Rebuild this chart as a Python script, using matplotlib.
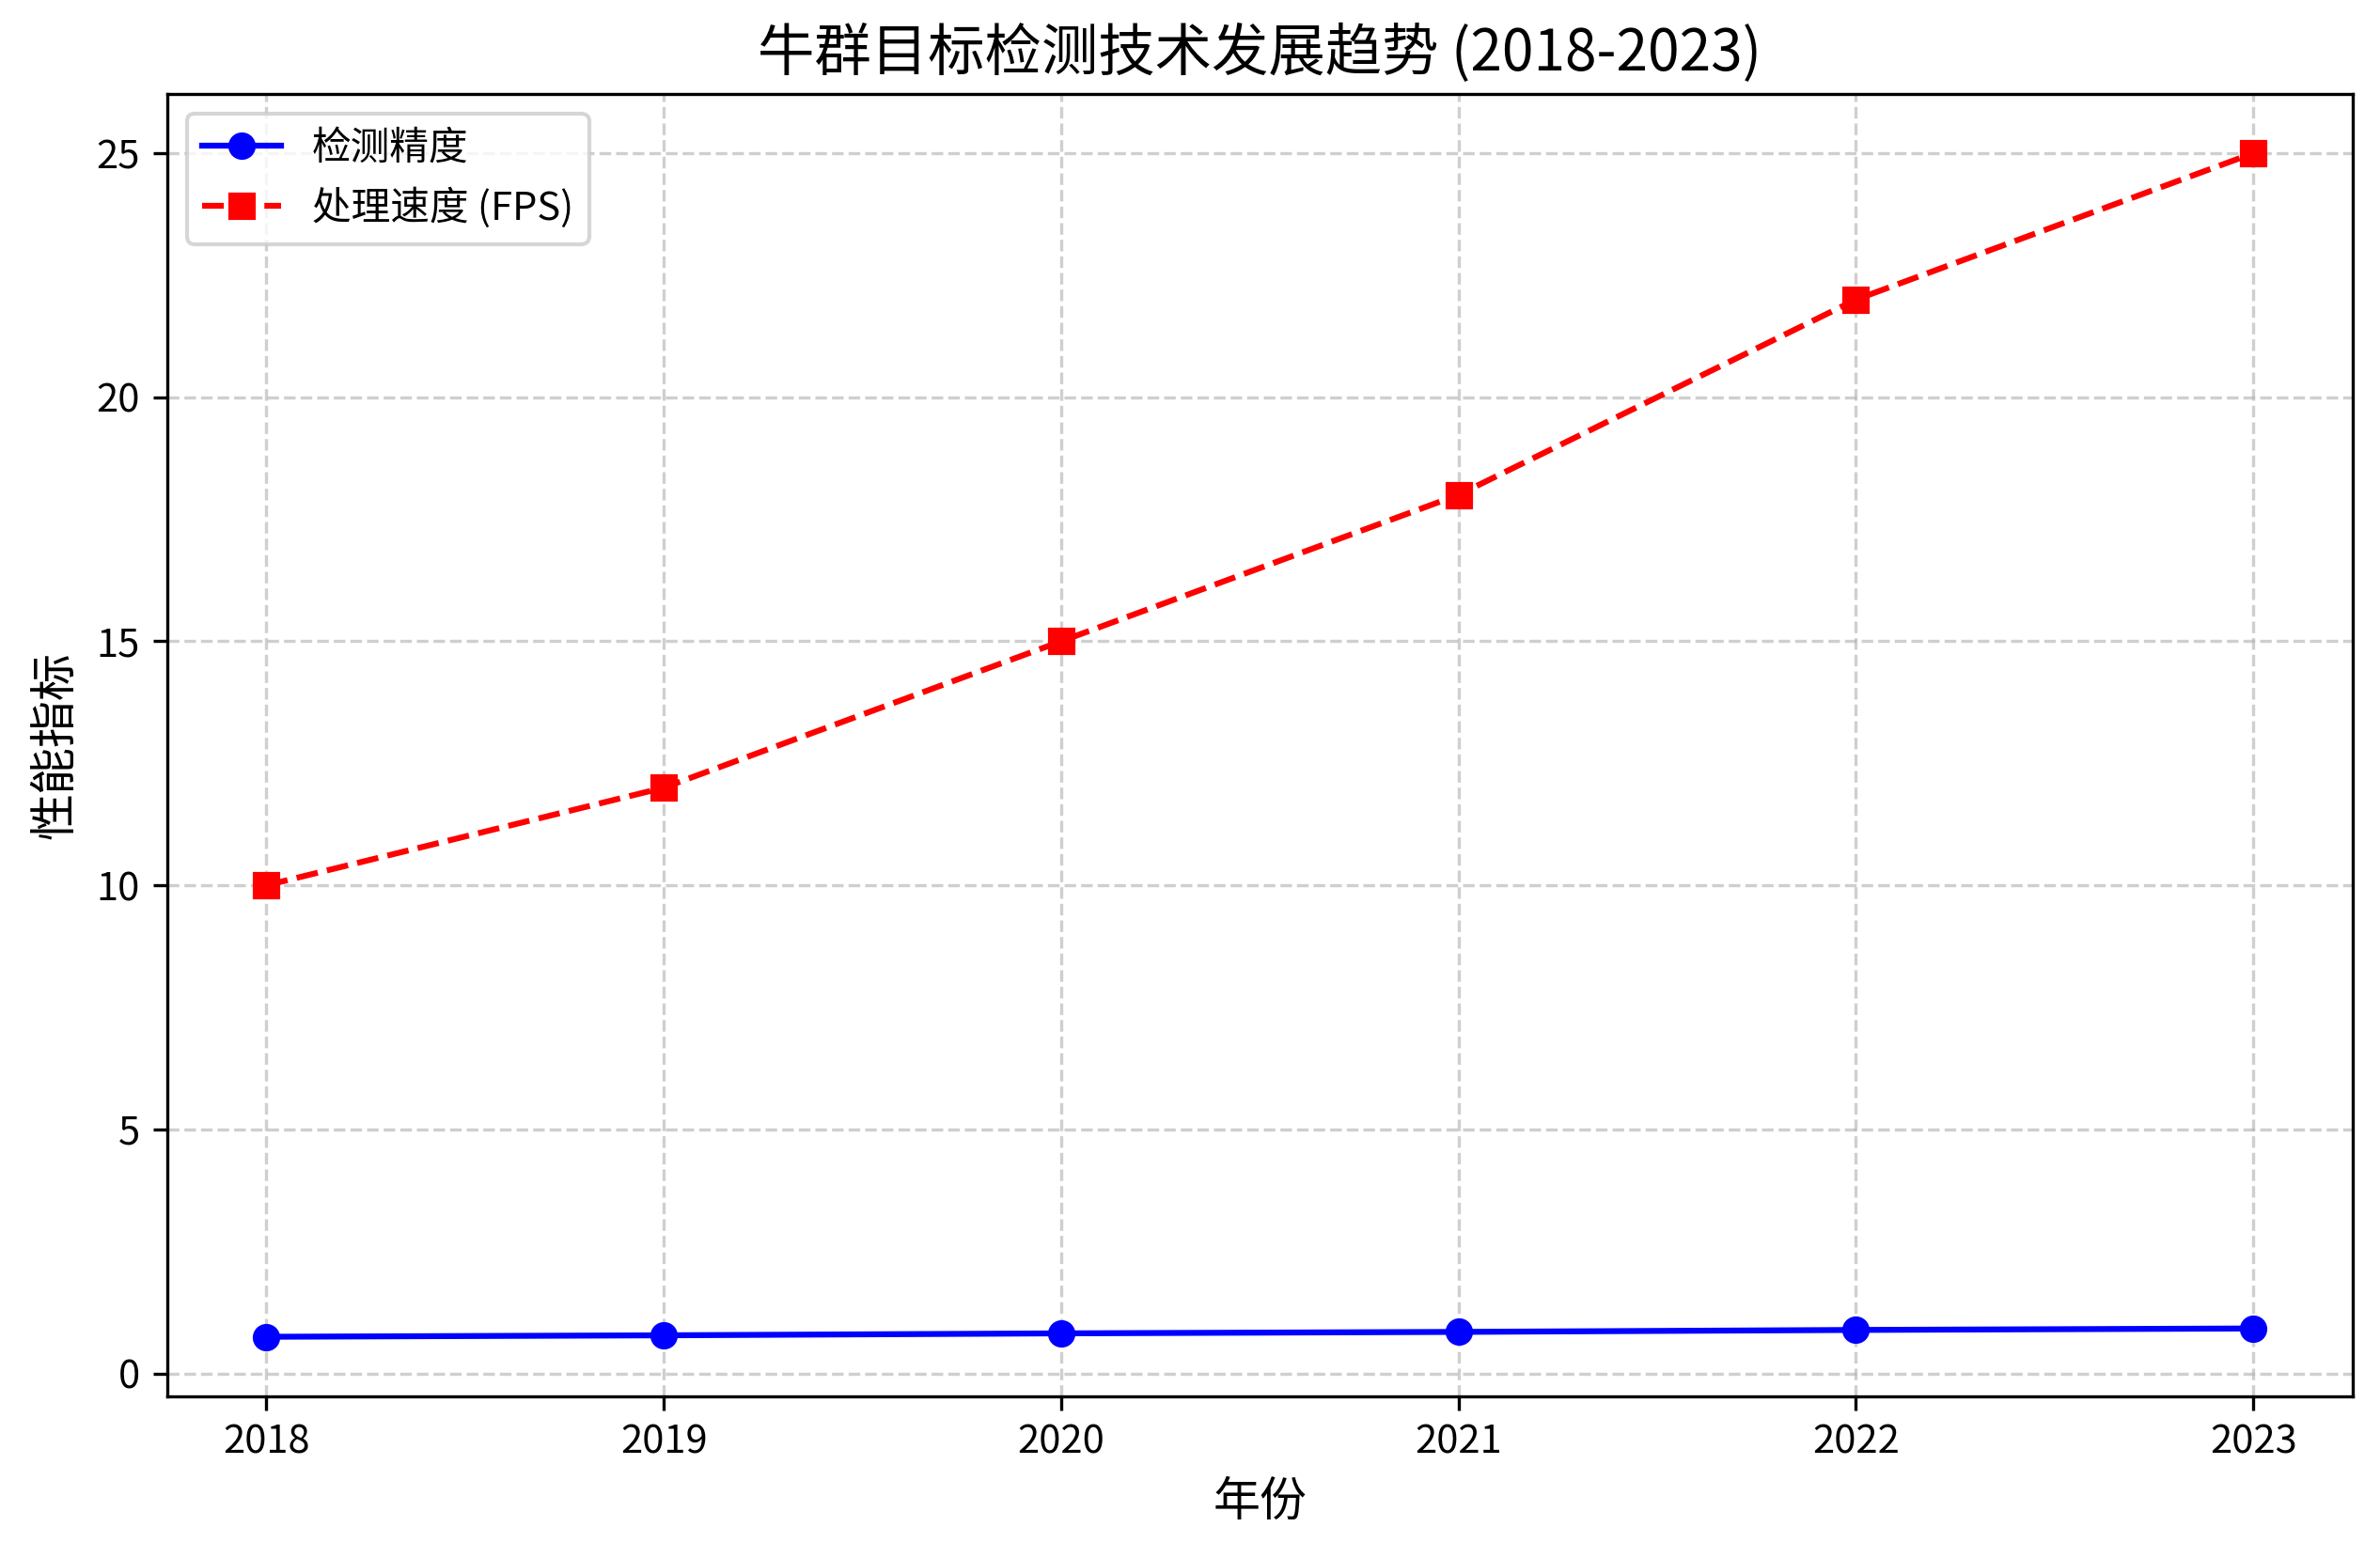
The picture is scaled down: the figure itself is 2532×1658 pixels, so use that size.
import matplotlib
matplotlib.use("Agg")
import matplotlib.pyplot as plt

plt.rcParams['font.family'] = ['Noto Sans CJK SC', 'DejaVu Sans']
plt.rcParams['axes.unicode_minus'] = False

years = [2018, 2019, 2020, 2021, 2022, 2023]
accuracy = [0.75, 0.78, 0.82, 0.85, 0.89, 0.92]
fps = [10, 12, 15, 18, 22, 25]

fig = plt.figure(figsize=(8.44, 5.527), dpi=300)
ax = fig.add_axes([0.0702, 0.104, 0.9183, 0.8356])

ax.plot(years, accuracy, color='blue', marker='o', linestyle='-', label='检测精度')
ax.plot(years, fps, color='red', marker='s', linestyle='--', label='处理速度 (FPS)')

ax.set_title('牛群目标检测技术发展趋势 (2018-2023)', fontsize=14.5)
ax.set_xlabel('年份', fontsize=12)
ax.set_ylabel('性能指标', fontsize=12)
ax.set_xticks(years)
ax.tick_params(labelsize=10)
ax.grid(True, linestyle='--', alpha=0.6)
ax.legend(loc='upper left', fontsize=10)

fig.savefig('out.png', dpi=300)
